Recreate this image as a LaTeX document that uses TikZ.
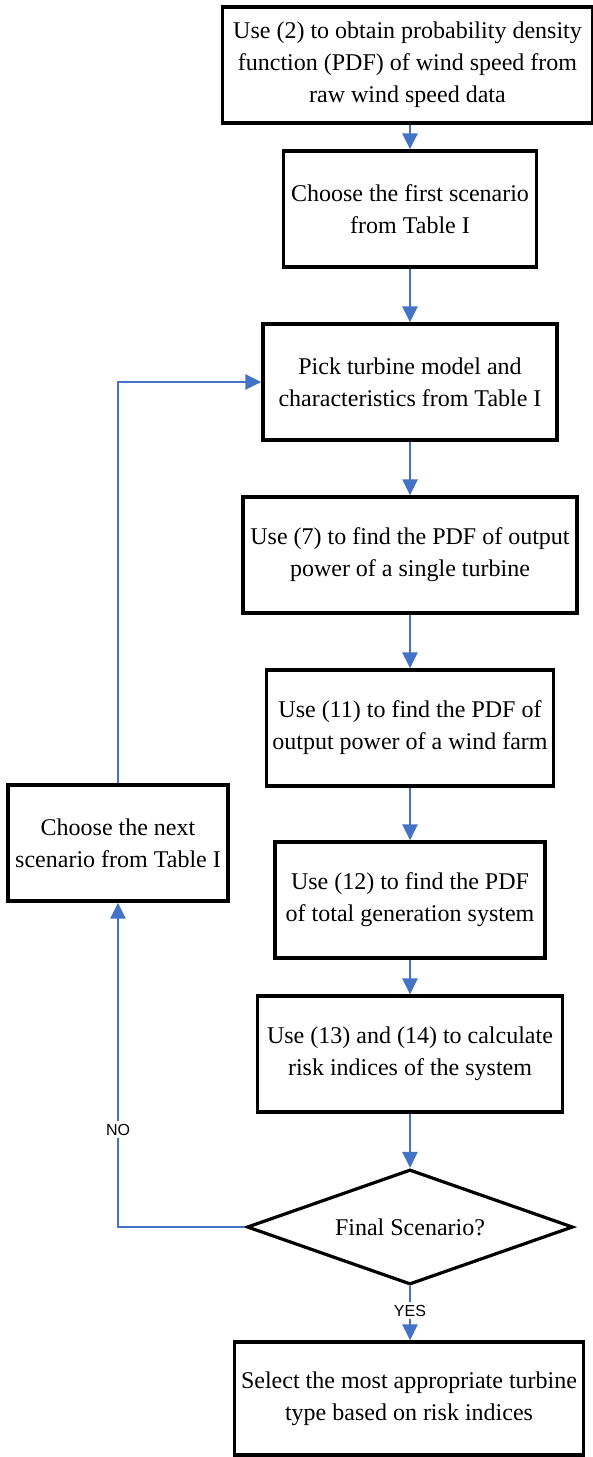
\documentclass[tikz,border=0pt]{standalone}
\usepackage{fontspec}
\setmainfont{Liberation Serif}
\newfontfamily\labelfont{Liberation Sans}
\usetikzlibrary{shapes.geometric, arrows.meta}
\definecolor{flowblue}{RGB}{68,114,196}

\begin{document}
\begin{tikzpicture}[x = 0.5pt, y = -0.5pt,
	box/.style = {draw, line width = 1.6pt, align = center, inner sep = 0pt, minimum height = 58pt, font = \fontsize{12}{16}\selectfont},
	decision/.style = {draw, diamond, aspect = 2.83, line width = 1.6pt, inner sep = 0pt, minimum width = 163pt, minimum height = 57.5pt, font = \fontsize{12}{16}\selectfont},
	flow/.style = {draw = flowblue, line width = 1.4pt, -{Triangle[length = 8pt, width = 7.5pt]}},
	tag/.style = {fill = white, inner sep = 1.5pt, font = \labelfont\fontsize{8}{9}\selectfont}]

	\useasboundingbox (0, 0) rectangle (593, 1457);

	\node [box, minimum width = 185pt] (pdf) at (407.5, 65) {Use (2) to obtain probability density\\function (PDF) of wind speed from\\raw wind speed data};
	\node [box, minimum width = 126.5pt] (first) at (410, 209) {Choose the first scenario\\from Table I};
	\node [box, minimum width = 147pt] (pick) at (410, 382) {Pick turbine model and\\characteristics from Table I};
	\node [box, minimum width = 167pt] (single) at (410, 555) {Use (7) to find the PDF of output\\power of a single turbine};
	\node [box, minimum width = 143.5pt] (farm) at (410, 728) {Use (11) to find the PDF of\\output power of a wind farm};
	\node [box, minimum width = 135pt] (total) at (410, 900) {Use (12) to find the PDF\\of total generation system};
	\node [box, minimum width = 152.5pt] (risk) at (410, 1054) {Use (13) and (14) to calculate\\risk indices of the system};
	\node [decision] (final) at (410, 1227) {Final Scenario?};
	\node [box, minimum width = 174.5pt, minimum height = 56.5pt] (select) at (409, 1398.5) {Select the most appropriate turbine\\type based on risk indices};
	\node [box, minimum width = 110pt] (next) at (118, 843) {Choose the next\\scenario from Table I};

	\coordinate (back) at (118, 382);

	\draw [flow] (first.north |- pdf.south) -- (first.north);
	\draw [flow] (first) -- (pick);
	\draw [flow] (pick) -- (single);
	\draw [flow] (single) -- (farm);
	\draw [flow] (farm) -- (total);
	\draw [flow] (total) -- (risk);
	\draw [flow] (risk) -- (final);
	\draw [flow] (final.south) -- node [tag, pos = 0.45] {YES} (select.north -| final.south);

	\draw [flow] (final.west) -| node [tag, pos = 0.65] {NO} (next.south);
	\draw [flow] (next.north) -- (back) -- (pick.west);
\end{tikzpicture}
\end{document}
